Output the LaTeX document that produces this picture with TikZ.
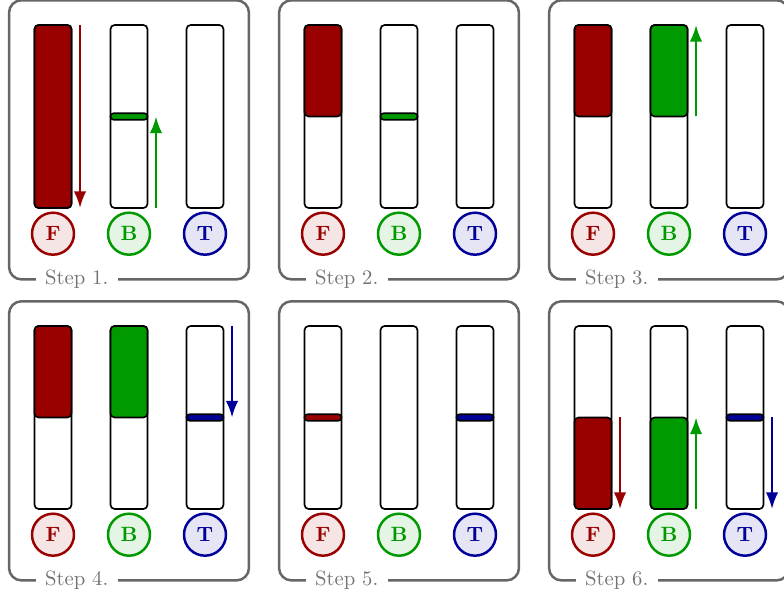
\documentclass[tikz,border=0pt]{standalone}
\usetikzlibrary{positioning,fit,arrows.meta}

\definecolor{fcol}{RGB}{153,0,0}
\definecolor{bcol}{RGB}{0,153,0}
\definecolor{tcol}{RGB}{0,0,153}

\tikzset{
    bar/.style={draw,thick,rounded corners=2pt,minimum width=0.629cm,minimum height=3.111cm,inner sep=0,outer sep=0},
    ball/.style={draw=#1,fill=#1!10,text=#1,very thick,circle,minimum size=0.714cm,inner sep=0,outer sep=0,font=\bfseries},
    frame/.style={draw=black!60,very thick,rounded corners=6pt,inner xsep=0.39cm,inner ysep=0.42cm,outer sep=0},
    steplabel/.style={fill=white,text=black!55,inner xsep=4.5pt,inner ysep=1pt},
    level/.style={draw,thick,fill=#1,rounded corners=2pt},
    band/.style={draw,thick,fill=#1,rounded corners=1.5pt},
    flow/.style={#1,line width=1.1pt,-{Latex[length=8pt,width=6pt]}}
}

\begin{document}
\begin{tikzpicture}
    \useasboundingbox (0,0) rectangle (13.328,10.098);
    % the six panels
    \foreach \i/\x/\y in {1/0.901/8.1175,2/5.491/8.1175,3/10.081/8.1175,4/0.901/3.0005,5/5.491/3.0005,6/10.081/3.0005}{
        \node[bar] (f\i) at (\x,\y) {};
        \node[bar,right=0.663cm of f\i] (b\i) {};
        \node[bar,right=0.663cm of b\i] (t\i) {};
        \node[ball=fcol,below=0.08cm of f\i] (fc\i) {F};
        \node[ball=bcol,below=0.08cm of b\i] (bc\i) {B};
        \node[ball=tcol,below=0.08cm of t\i] (tc\i) {T};
        \node[frame,fit=(f\i)(t\i)(fc\i)(tc\i)] (fr\i) {};
        \node[steplabel] (s\i) at ([xshift=1.15cm]fr\i.south west) {Step \i.};
    }
    % step 1
    \draw[level=fcol] (f1.north west) rectangle (f1.south east);
    \draw[band=bcol] ([yshift=0.055cm]b1.west) rectangle ([yshift=-0.055cm]b1.east);
    \draw[flow=fcol] ([xshift=0.145cm]f1.north east) -- ([xshift=0.145cm]f1.south east);
    \draw[flow=bcol] ([xshift=0.145cm]b1.south east) -- ([xshift=0.145cm]b1.east);
    % step 2
    \draw[level=fcol] (f2.north west) rectangle (f2.east);
    \draw[band=bcol] ([yshift=0.055cm]b2.west) rectangle ([yshift=-0.055cm]b2.east);
    % step 3
    \draw[level=fcol] (f3.north west) rectangle (f3.east);
    \draw[level=bcol] (b3.north west) rectangle (b3.east);
    \draw[flow=bcol] ([xshift=0.145cm]b3.east) -- ([xshift=0.145cm]b3.north east);
    % step 4
    \draw[level=fcol] (f4.north west) rectangle (f4.east);
    \draw[level=bcol] (b4.north west) rectangle (b4.east);
    \draw[band=tcol] ([yshift=0.055cm]t4.west) rectangle ([yshift=-0.055cm]t4.east);
    \draw[flow=tcol] ([xshift=0.145cm]t4.north east) -- ([xshift=0.145cm]t4.east);
    % step 5
    \draw[band=fcol] ([yshift=0.055cm]f5.west) rectangle ([yshift=-0.055cm]f5.east);
    \draw[band=tcol] ([yshift=0.055cm]t5.west) rectangle ([yshift=-0.055cm]t5.east);
    % step 6
    \draw[level=fcol] (f6.west) rectangle (f6.south east);
    \draw[level=bcol] (b6.west) rectangle (b6.south east);
    \draw[band=tcol] ([yshift=0.055cm]t6.west) rectangle ([yshift=-0.055cm]t6.east);
    \draw[flow=fcol] ([xshift=0.145cm]f6.east) -- ([xshift=0.145cm]f6.south east);
    \draw[flow=bcol] ([xshift=0.145cm]b6.south east) -- ([xshift=0.145cm]b6.east);
    \draw[flow=tcol] ([xshift=0.145cm]t6.east) -- ([xshift=0.145cm]t6.south east);
\end{tikzpicture}
\end{document}
